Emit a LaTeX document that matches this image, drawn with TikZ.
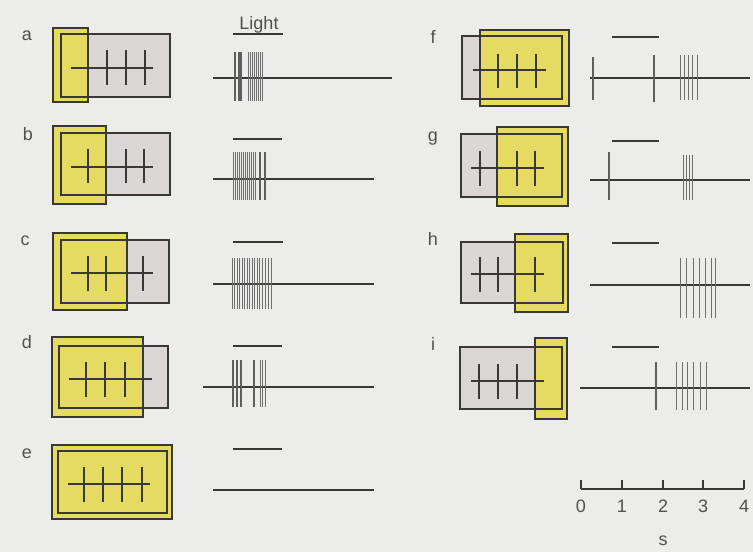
\documentclass[tikz,border=0pt]{standalone}
\usepackage{fontspec}
\setmainfont{Liberation Sans}
\definecolor{bg}{RGB}{236,236,234}
\definecolor{rfgray}{RGB}{218,214,214}
\definecolor{spotyel}{RGB}{229,218,98}
\definecolor{edge}{RGB}{58,56,54}
\definecolor{spk}{RGB}{95,95,95}
\definecolor{dspk}{RGB}{110,110,110}
\definecolor{txt}{RGB}{80,80,80}
\tikzset{
  rf/.style={fill=rfgray},
  spot/.style={fill=spotyel},
  frame/.style={draw=edge,line width=1.7pt},
  axisline/.style={draw=edge,line width=1.8pt},
  tickline/.style={draw=edge,line width=1.6pt},
  spike/.style={draw=spk,line width=1.1pt},
  dspike/.style={draw=dspk,line width=0.8pt},
  lightbar/.style={draw=edge,line width=1.8pt},
  lab/.style={text=txt,font=\fontsize{18}{20}\selectfont,anchor=base,inner sep=0pt},
}
\begin{document}
\begin{tikzpicture}[x=1pt,y=-1pt]
\fill[bg] (0,0) rectangle (753,552);
\useasboundingbox (0,0) rectangle (753,552);

% a
\node[lab] (la) at (27,40) {a};
\fill[rf] (61,34) rectangle (170,97);
\fill[spot] (53,28) rectangle (88,102);
\draw[frame] (61,34) rectangle (170,97);
\draw[frame] (53,28) rectangle (88,102);
\draw[axisline] (71,68) -- (153,68);
\foreach \x in {88,107,126,145} \draw[tickline] (\x,50) -- (\x,85);
\node[lab] (light) at (259,29) {Light};
\draw[lightbar] (233,34) -- (283,34);
\draw[axisline] (213,78) -- (392,78);
\foreach \x in {235,239,241} \draw[spike] (\x,52) -- (\x,101);
\foreach \x in {248,250,252,254,256,258,260,262} \draw[dspike] (\x,52) -- (\x,101);

% b
\node[lab] (lb) at (28,140) {b};
\fill[rf] (61,133) rectangle (170,195);
\fill[spot] (53,126) rectangle (106,204);
\draw[frame] (61,133) rectangle (170,195);
\draw[frame] (53,126) rectangle (106,204);
\draw[axisline] (71,167) -- (153,167);
\foreach \x in {88,106,126,144} \draw[tickline] (\x,149) -- (\x,183);
\draw[lightbar] (233,139) -- (282,139);
\draw[axisline] (213,179) -- (374,179);
\foreach \x in {233,235,237,239,241,243,245,247,249,251,253,255} \draw[dspike] (\x,152) -- (\x,200);
\foreach \x in {260,265} \draw[spike] (\x,152) -- (\x,200);

% c
\node[lab] (lc) at (25,245) {c};
\fill[rf] (61,240) rectangle (169,303);
\fill[spot] (53,233) rectangle (127,310);
\draw[frame] (61,240) rectangle (169,303);
\draw[frame] (53,233) rectangle (127,310);
\draw[axisline] (71,273) -- (153,273);
\foreach \x in {88,106,127,143} \draw[tickline] (\x,256) -- (\x,291);
\draw[lightbar] (233,242) -- (283,242);
\draw[axisline] (213,284) -- (374,284);
\foreach \x in {232,234.5,237,239.5,242,244.5,247,249.5,252,254.5,257,259.5,262,265,268,271} \draw[dspike] (\x,258) -- (\x,309);

% d
\node[lab] (ld) at (27,348) {d};
\fill[rf] (59,346) rectangle (168,408);
\fill[spot] (52,337) rectangle (143,417);
\draw[frame] (59,346) rectangle (168,408);
\draw[frame] (52,337) rectangle (143,417);
\draw[axisline] (69,379) -- (152,379);
\foreach \x in {86,105,125,143} \draw[tickline] (\x,362) -- (\x,397);
\draw[lightbar] (233,346) -- (282,346);
\draw[axisline] (203,387) -- (374,387);
\foreach \x in {233,237,241,254} \draw[spike] (\x,360) -- (\x,407);
\foreach \x in {260,262.5,265} \draw[dspike] (\x,360) -- (\x,407);

% e
\node[lab] (le) at (27,458) {e};
\fill[spot] (52,445) rectangle (172,519);
\draw[frame] (58,451) rectangle (167,513);
\draw[frame] (52,445) rectangle (172,519);
\draw[axisline] (68,484) -- (150,484);
\foreach \x in {84,103,122,142} \draw[tickline] (\x,467) -- (\x,502);
\draw[lightbar] (233,449) -- (282,449);
\draw[axisline] (213,490) -- (374,490);

% f
\node[lab] (lf) at (433,43) {f};
\fill[rf] (462,36) rectangle (562,99);
\fill[spot] (480,30) rectangle (569,106);
\draw[frame] (462,36) rectangle (562,99);
\draw[frame] (480,30) rectangle (569,106);
\draw[axisline] (473,70) -- (546,70);
\foreach \x in {480,498,517,536} \draw[tickline] (\x,54) -- (\x,88);
\draw[lightbar] (612,37) -- (659,37);
\draw[axisline] (590,78) -- (750,78);
\draw[spike] (593,57) -- (593,100);
\draw[spike] (654,55) -- (654,102);
\foreach \x in {680,684,688,692,697} \draw[dspike] (\x,55) -- (\x,100);

% g
\node[lab] (lg) at (433,141) {g};
\fill[rf] (461,134) rectangle (562,197);
\fill[spot] (497,127) rectangle (568,206);
\draw[frame] (461,134) rectangle (562,197);
\draw[frame] (497,127) rectangle (568,206);
\draw[axisline] (471,168) -- (544,168);
\foreach \x in {480,497,517,535} \draw[tickline] (\x,151) -- (\x,186);
\draw[lightbar] (612,141) -- (659,141);
\draw[axisline] (590,180) -- (750,180);
\draw[spike] (609,152) -- (609,200);
\foreach \x in {683,686,689,692} \draw[dspike] (\x,155) -- (\x,200);

% h
\node[lab] (lh) at (433,245) {h};
\fill[rf] (461,242) rectangle (563,303);
\fill[spot] (515,234) rectangle (568,312);
\draw[frame] (461,242) rectangle (563,303);
\draw[frame] (515,234) rectangle (568,312);
\draw[axisline] (471,274) -- (544,274);
\foreach \x in {480,498,515,535} \draw[tickline] (\x,257) -- (\x,292);
\draw[lightbar] (612,243) -- (659,243);
\draw[axisline] (590,285) -- (750,285);
\foreach \x in {680,686,693,699,705,711,715} \draw[dspike] (\x,258) -- (\x,318);

% i
\node[lab] (li) at (433,350) {i};
\fill[rf] (460,347) rectangle (562,409);
\fill[spot] (535,338) rectangle (567,419);
\draw[frame] (460,347) rectangle (562,409);
\draw[frame] (535,338) rectangle (567,419);
\draw[axisline] (471,381) -- (544,381);
\foreach \x in {479,498,517,535} \draw[tickline] (\x,364) -- (\x,399);
\draw[lightbar] (612,347) -- (659,347);
\draw[axisline] (580,388) -- (750,388);
\draw[spike] (656,362) -- (656,410);
\foreach \x in {676,682,687,693,700,706} \draw[dspike] (\x,362) -- (\x,410);

% time scale
\coordinate (s0) at (581,489);
\coordinate (s4) at (744,489);
\draw[draw=edge,line width=1.5pt] (s0) -- (s4);
\foreach \x/\n in {581/0,622/1,663/2,703/3,744/4} {
  \draw[draw=edge,line width=1.3pt] (\x,489) -- (\x,480);
  \node[lab] (n\n) at (\x,512) {\n};
}
\node[lab] (sunit) at (663,545) {s};
\end{tikzpicture}
\end{document}
